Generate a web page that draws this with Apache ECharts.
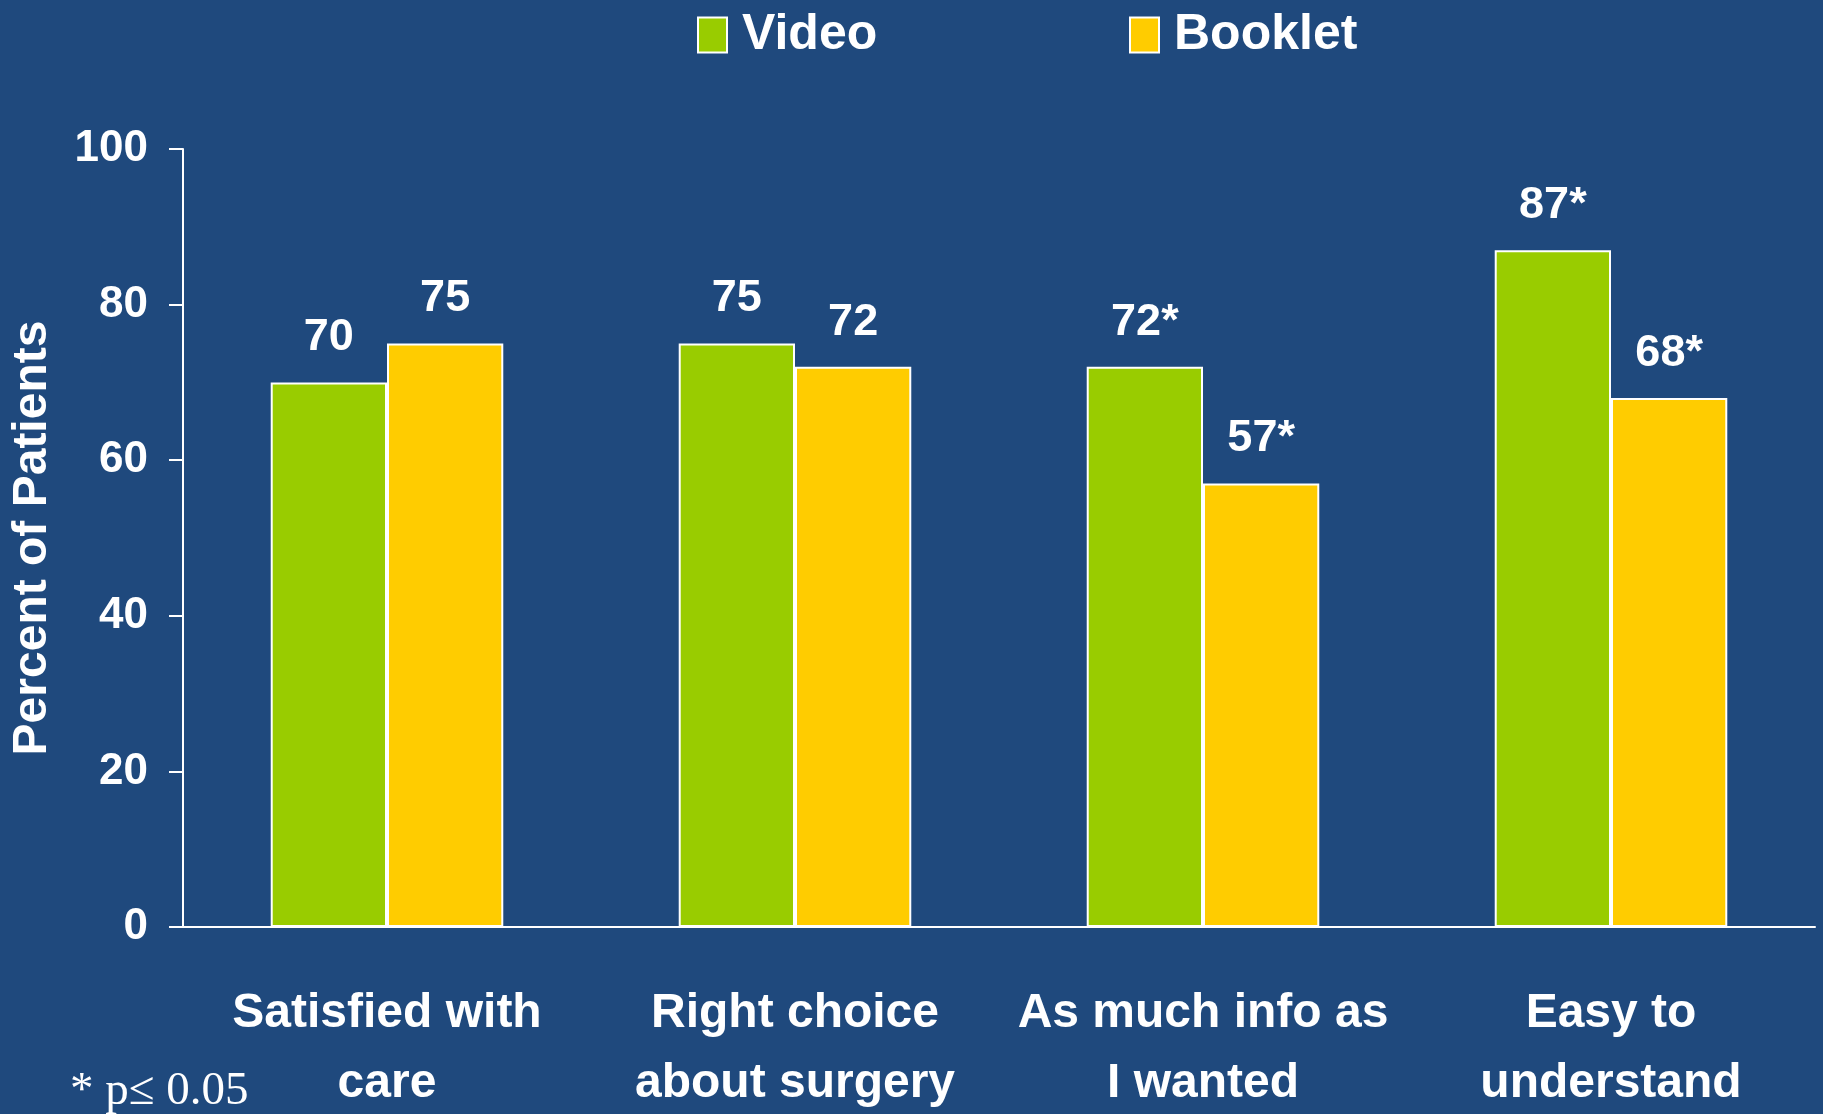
<!DOCTYPE html>
<html>
<head>
<meta charset="utf-8">
<script src="https://cdn.jsdelivr.net/npm/echarts@6/dist/echarts.min.js"></script>
<style>
  html, body { margin: 0; padding: 0; background: #1f497d; }
  #chart { width: 1823px; height: 1114px; }
</style>
</head>
<body>
<div id="chart"></div>
<script>
// data
var categories = ['Satisfied with\ncare', 'Right choice\nabout surgery', 'As much info as\nI wanted', 'Easy to\nunderstand'];
var videoValues = [70, 75, 72, 87];
var bookletValues = [75, 72, 57, 68];
var videoLabels = ['70', '75', '72*', '87*'];
var bookletLabels = ['75', '72', '57*', '68*'];
var yTicks = [0, 20, 40, 60, 80, 100];

var sans = '"Liberation Sans", Arial, sans-serif';

function labelFor(list) {
    return {
        show: true,
        position: 'top',
        distance: 22,
        color: '#fff',
        fontFamily: sans,
        fontWeight: 'bold',
        fontSize: 45,
        formatter: function (p) { return list[p.dataIndex]; }
    };
}

var legendText = { color: '#fff', fontFamily: sans, fontWeight: 'bold', fontSize: 50, padding: [0, 0, 0, 10] };

var myChart = echarts.init(document.getElementById('chart'));
var option = {
    backgroundColor: '#1f497d',
    animation: false,
    legend: [{
        data: ['Video'],
        left: 692, top: 5,
        itemWidth: 29, itemHeight: 35,
        icon: 'rect',
        textStyle: legendText
    }, {
        data: ['Booklet'],
        left: 1124, top: 5,
        itemWidth: 29, itemHeight: 35,
        icon: 'rect',
        textStyle: legendText
    }],
    grid: { left: 183, right: 8, top: 149, bottom: 187, containLabel: false, outerBoundsMode: 'none' },
    xAxis: {
        type: 'category',
        data: categories,
        axisLine: { lineStyle: { color: '#fff', width: 2 } },
        axisTick: { length: 17, lineStyle: { color: '#fff', width: 2 } },
        axisLabel: {
            color: '#fff', fontFamily: sans, fontWeight: 'bold',
            fontSize: 48, lineHeight: 70, margin: 52, interval: 0
        }
    },
    yAxis: {
        type: 'value',
        min: 0, max: 100, interval: 20,
        name: 'Percent of Patients',
        nameLocation: 'middle',
        nameGap: 126,
        nameTextStyle: { color: '#fff', fontFamily: sans, fontWeight: 'bold', fontSize: 48 },
        axisLine: { show: true, lineStyle: { color: '#fff', width: 2 } },
        axisTick: { show: true, length: 14, lineStyle: { color: '#fff', width: 2 } },
        axisLabel: {
            color: '#fff', fontFamily: sans, fontWeight: 'bold', fontSize: 44, margin: 35,
            formatter: function (v) { return yTicks.indexOf(v) >= 0 ? String(v) : ''; }
        },
        splitLine: { show: false }
    },
    series: [{
        name: 'Video',
        type: 'bar',
        data: videoValues,
        barGap: '0%',
        barCategoryGap: '43%',
        itemStyle: { color: '#99cc00', borderColor: '#fff', borderWidth: 2 },
        label: labelFor(videoLabels)
    }, {
        name: 'Booklet',
        type: 'bar',
        data: bookletValues,
        itemStyle: { color: '#ffcc00', borderColor: '#fff', borderWidth: 2 },
        label: labelFor(bookletLabels)
    }],
    graphic: [{
        type: 'text',
        left: 70, top: 1068,
        style: {
            text: '* p\u2264 0.05',
            fill: '#fff',
            font: '47px "Liberation Serif", "Times New Roman", serif'
        }
    }]
};
myChart.setOption(option);

window.onresize = function () {
    setTimeout(function () { myChart.resize(); }, 50);
};
</script>
</body>
</html>
